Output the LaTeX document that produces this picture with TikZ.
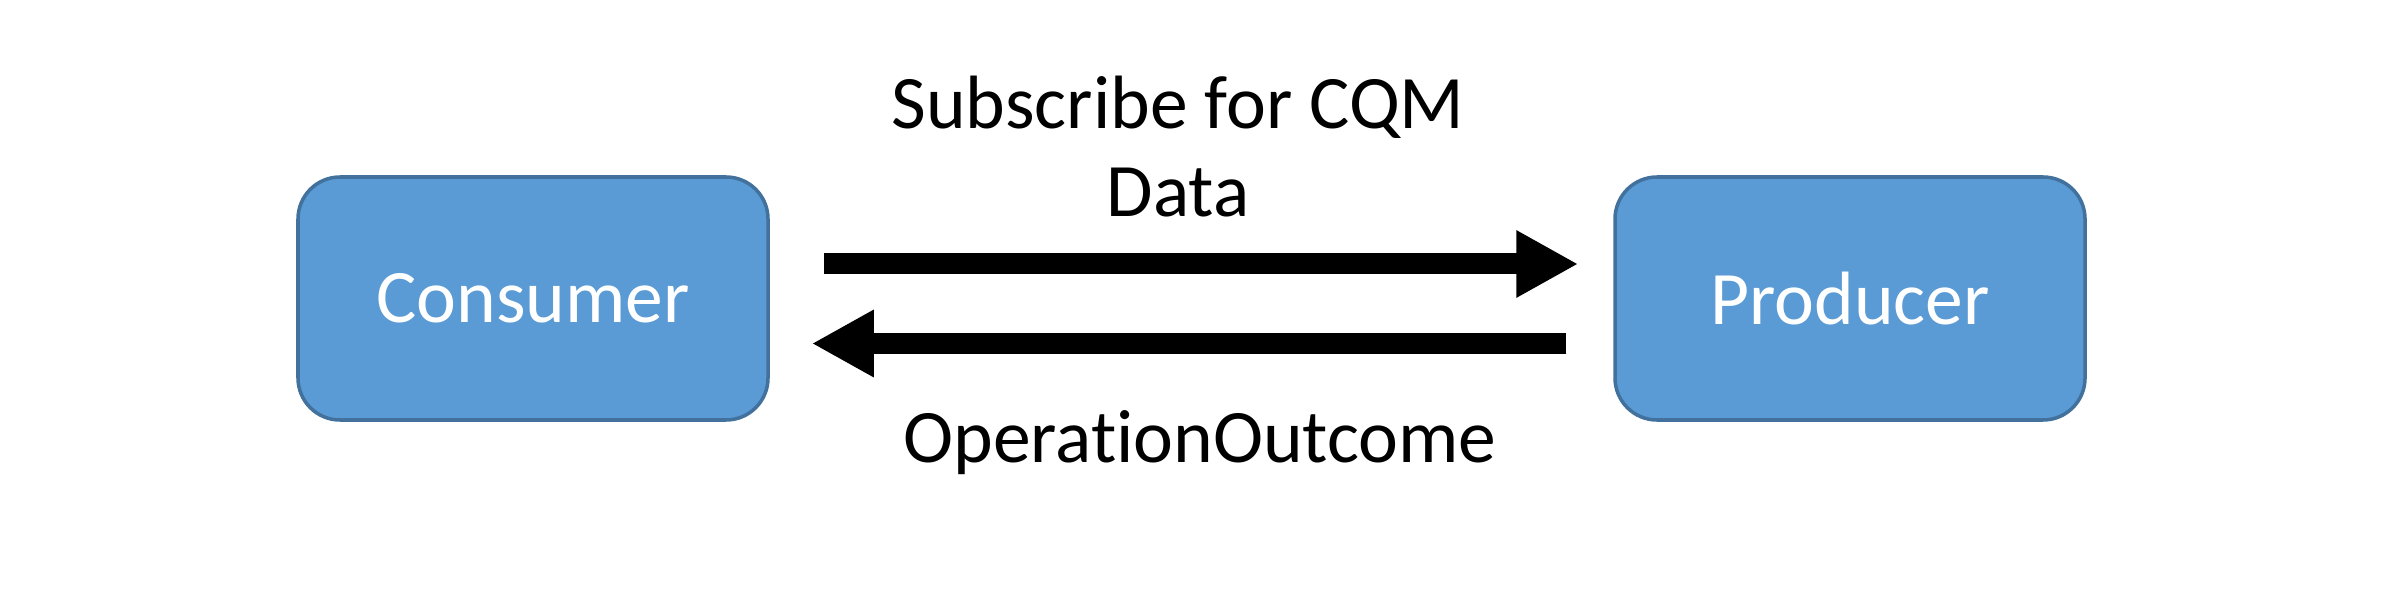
\documentclass[tikz,border=0pt]{standalone}
\usepackage{fontspec}
\setmainfont{Carlito}[Ligatures=NoCommon]
\usetikzlibrary{arrows.meta, positioning}
\definecolor{boxfill}{HTML}{5B9BD5}
\definecolor{boxline}{HTML}{41719C}
\tikzstyle{party} = [rectangle, 
rounded corners=0.42cm, 
minimum width=4.7cm, 
minimum height=2.43cm, 
draw=boxline, 
line width=1pt, 
fill=boxfill, 
text=white, 
font=\fontsize{21.5}{25.3}\selectfont]
\tikzstyle{msg} = [align=center, 
inner sep=0pt, 
font=\fontsize{21.5}{25.3}\selectfont]
\tikzstyle{fatarrow} = [line width=0.21cm,-{Triangle[length=0.62cm, width=0.63cm]}]

\begin{document}
\begin{tikzpicture}[node distance=13.17cm]
    \useasboundingbox (0,0) rectangle (24,-5.98);
    \node (consumer) [party] at (5.33,-2.985) {Consumer};
    \node (producer) [party, right of=consumer] {Producer};

    \node (subscribe) [msg, anchor=base] at (11.78,-2.17) {Subscribe for CQM\\Data};
    \node (outcome) [msg, anchor=base] at (12.00,-4.62) {OperationOutcome};

    \draw [fatarrow] ([shift={(0.54,0.345)}]consumer.east) -- ([shift={(-0.35,0.345)}]producer.west);
    \draw [fatarrow] ([shift={(-0.47,-0.45)}]producer.west) -- ([shift={(0.42,-0.45)}]consumer.east);
\end{tikzpicture}
\end{document}
